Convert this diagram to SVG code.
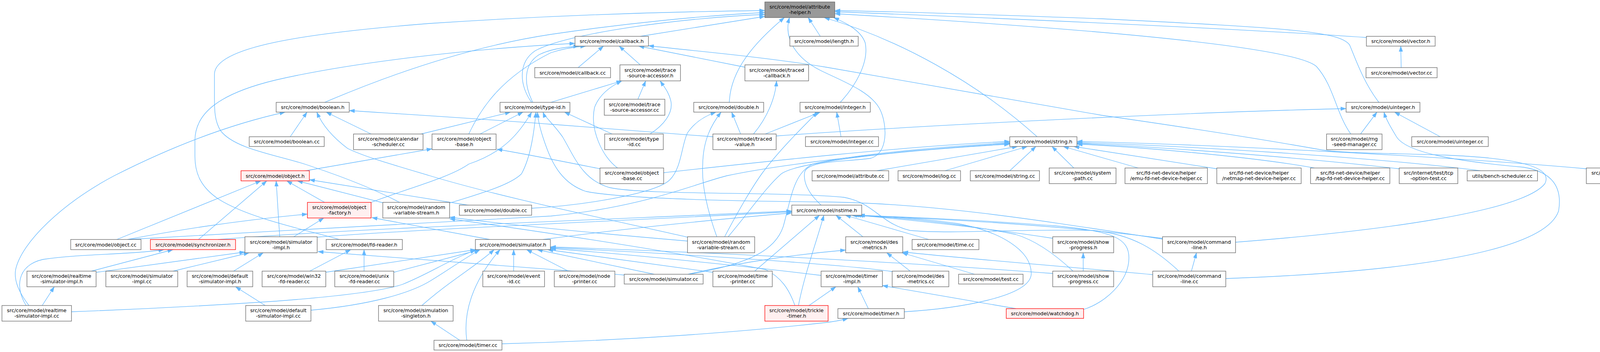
<svg xmlns="http://www.w3.org/2000/svg" width="4227" height="901" viewBox="0 0 4227 901">
<style>
.node rect{fill:#ffffff;stroke:#666666;stroke-width:1.3}
.root rect{fill:#999999;stroke:#666666;stroke-width:1.3}
.red rect{fill:#fff0f0;stroke:#ff0000;stroke-width:1.3}
text{font-family:"DejaVu Sans","Liberation Sans",sans-serif;font-size:12.8px;text-anchor:middle;fill:#000000}
.edges path{fill:none;stroke:#63b8ff;stroke-width:1.3;marker-end:url(#arr)}
</style>
<defs>
<marker id="arr" markerUnits="userSpaceOnUse" markerWidth="14" markerHeight="10" viewBox="0 0 13 9" refX="13" refY="4.5" orient="auto">
<path d="M0,0 L13,4.5 L0,9 z" fill="#63b8ff" stroke="#63b8ff" stroke-width="0.5"/>
</marker>
</defs>
<rect x="0" y="0" width="4227" height="901" fill="#ffffff"/>
<g class="edges">
<path d="M1639,93 L1958,42"/>
<path d="M2100,93 L2069,45"/>
<path d="M3498,96 C3200,75 2600,48 2137,30"/>
<path d="M3530,262 C3490,210 3470,150 3455,115 C3430,80 3300,72 2820,48 C2500,36 2300,30 2137,27"/>
<path d="M831,262 C1000,190 1200,120 1410,88 C1600,60 1800,40 1958,32"/>
<path d="M1361,262 C1330,220 1325,160 1370,130 C1450,85 1750,45 1958,37"/>
<path d="M1867,262 C1870,180 1930,110 2008,45"/>
<path d="M2151,262 C2190,220 2225,160 2215,110 C2205,80 2170,60 2134,45"/>
<path d="M2655,350 C2500,210 2300,100 2110,45"/>
<path d="M3458,343 C3420,290 3415,220 3370,170 C3300,110 2600,62 2137,35"/>
<path d="M1023,518 C950,480 870,450 780,420 C700,395 600,380 565,335 C549,310 549,280 549,250 L549,190 C549,120 780,85 1100,60 C1400,40 1700,30 1958,27"/>
<path d="M2102,525 C2075,500 2055,470 2060,440 C2070,410 2160,415 2230,405 C2275,390 2270,320 2255,285 C2235,235 2150,205 2100,180 C2040,150 2005,100 2021,45"/>
<path d="M1480,173 L1545,118"/>
<path d="M1639,166 L1585,118"/>
<path d="M1907,172 L1635,118"/>
<path d="M1364,262 C1340,215 1340,165 1380,140 C1410,125 1450,120 1482,118"/>
<path d="M1200,343 C1230,280 1280,200 1410,135 C1440,125 1470,120 1500,118"/>
<path d="M869,613 C790,590 640,560 560,510 C515,480 499,445 499,400 L499,360 C499,290 560,240 705,205 C900,160 1200,125 1472,111"/>
<path d="M3163,620 C3550,590 3900,540 3955,470 C3975,430 3900,405 3700,397 C3550,392 3430,392 3380,383 C3250,360 3100,335 2820,295 C2500,240 2200,185 2115,172 C1950,145 1800,133 1660,117"/>
<path d="M3587,173 L3586,118"/>
<path d="M1633,254 L1653,207"/>
<path d="M1410,262 L1592,207"/>
<path d="M1664,343 C1700,320 1722,290 1718,262 C1714,238 1700,222 1690,207"/>
<path d="M1581,430 C1540,400 1510,330 1522,275 C1535,240 1565,220 1592,207"/>
<path d="M1929,343 C1965,300 1985,250 1988,207"/>
<path d="M743,350 L786,287"/>
<path d="M950,343 L835,287"/>
<path d="M1825,350 C1650,336 1500,325 1410,318 C1200,302 1000,290 894,283"/>
<path d="M74,782 C50,750 35,720 40,690 C55,620 160,520 292,450 C430,380 580,320 730,287"/>
<path d="M1760,607 C1600,570 1300,510 1101,450 C1000,420 930,400 890,380 C850,350 825,320 811,287"/>
<path d="M1078,343 L1307,287"/>
<path d="M1229,343 L1339,287"/>
<path d="M1567,343 L1445,287"/>
<path d="M950,518 C1050,480 1150,455 1200,420 C1290,390 1330,340 1361,287"/>
<path d="M1150,520 C1250,490 1310,470 1335,445 C1360,400 1368,330 1372,287"/>
<path d="M2976,612 C2700,570 2400,520 2115,517 C1900,515 1600,510 1500,490 C1440,470 1415,420 1400,380 C1385,340 1377,310 1376,287"/>
<path d="M3018,694 C2960,640 2900,600 2800,590 C2600,585 2450,600 2330,590 C2250,570 2240,520 2160,505 C2000,490 1650,500 1560,480 C1490,460 1470,400 1440,350 C1415,315 1395,300 1390,287"/>
<path d="M1896,343 L1873,287"/>
<path d="M1361,533 C1500,525 1680,495 1715,460 C1745,430 1745,370 1760,340 C1780,310 1810,295 1833,287"/>
<path d="M1835,606 C1815,550 1795,480 1799,420 C1800,360 1820,320 1846,287"/>
<path d="M1959,343 L2100,287"/>
<path d="M2153,350 L2142,287"/>
<path d="M1855,606 C1890,540 1925,480 1950,445 C1990,390 2050,330 2093,287"/>
<path d="M1987,348 C2300,325 3000,288 3446,278"/>
<path d="M3483,343 L3525,287"/>
<path d="M3687,350 L3570,287"/>
<path d="M3138,713 C3500,700 3950,660 3990,540 C4000,480 3975,440 3900,428 C3720,412 3600,390 3575,350 C3560,325 3548,305 3543,287"/>
<path d="M777,438 L1106,381"/>
<path d="M1536,432 C1450,415 1350,395 1272,382"/>
<path d="M2245,437 L2605,375"/>
<path d="M2419,437 L2630,375"/>
<path d="M2585,437 L2652,375"/>
<path d="M2749,430 L2693,375"/>
<path d="M2914,430 L2722,375"/>
<path d="M3115,432 L2749,375"/>
<path d="M3365,430 C3200,400 2900,375 2757,369"/>
<path d="M3582,432 C3300,400 2950,375 2757,367"/>
<path d="M3790,437 C3500,400 3000,372 2757,365"/>
<path d="M4061,432 C3700,400 3100,370 2757,362"/>
<path d="M1699,442 C1900,420 2300,375 2585,362"/>
<path d="M326,613 C700,590 1250,565 1410,553 C1650,530 1780,470 1860,450 C2000,420 2300,385 2585,367"/>
<path d="M1864,606 C1920,540 1960,480 2000,445 C2040,415 2300,385 2585,369"/>
<path d="M1765,702 C1920,675 1985,640 2005,580 C2025,510 2030,445 2080,420 C2200,392 2450,373 2585,365"/>
<path d="M831,518 L734,463"/>
<path d="M984,520 L761,463"/>
<path d="M1204,526 L792,460"/>
<path d="M716,606 L707,463"/>
<path d="M299,613 L668,463"/>
<path d="M508,613 L683,463"/>
<path d="M326,613 C450,590 600,565 787,548"/>
<path d="M752,606 L829,558"/>
<path d="M1254,613 L952,557"/>
<path d="M1760,617 C1500,595 1300,575 1151,556"/>
<path d="M2035,782 C2020,740 2000,710 1960,690 C1700,640 1400,595 1151,560"/>
<path d="M558,613 C900,585 1600,560 2027,540"/>
<path d="M812,607 C1100,585 1600,565 2027,542"/>
<path d="M1390,613 C1600,585 1850,560 2027,545"/>
<path d="M1932,694 L2098,551"/>
<path d="M2044,782 C2060,700 2090,620 2109,551"/>
<path d="M2209,606 L2140,551"/>
<path d="M2378,613 L2164,551"/>
<path d="M2976,610 C2700,575 2400,560 2190,551"/>
<path d="M2695,610 C2500,580 2300,560 2196,551"/>
<path d="M2747,694 C2700,650 2650,615 2600,600 C2450,570 2300,556 2180,551"/>
<path d="M2315,798 C2450,790 2640,760 2640,700 C2640,640 2560,592 2450,572 C2350,557 2250,553 2185,551"/>
<path d="M2774,792 C2830,775 2890,720 2890,660 C2890,610 2850,592 2700,578 C2500,562 2300,555 2200,551"/>
<path d="M247,697 L627,645"/>
<path d="M443,694 L638,647"/>
<path d="M598,694 L674,647"/>
<path d="M1598,704 C1300,680 1000,660 814,644"/>
<path d="M234,694 L443,639"/>
<path d="M67,782 C40,740 40,680 110,664 C200,650 330,652 420,639"/>
<path d="M793,694 L898,639"/>
<path d="M932,694 L932,639"/>
<path d="M183,798 C400,790 600,778 705,771 C850,760 980,745 1030,728 C1100,700 1150,665 1218,640"/>
<path d="M796,794 C950,780 1050,750 1100,720 C1150,690 1190,660 1228,640"/>
<path d="M833,697 L1218,639"/>
<path d="M1008,697 L1229,639"/>
<path d="M1080,782 C1150,720 1220,680 1265,639"/>
<path d="M1195,871 C1185,800 1210,720 1280,639"/>
<path d="M1315,694 L1315,639"/>
<path d="M1455,694 L1348,639"/>
<path d="M1675,702 L1375,639"/>
<path d="M1825,697 L1402,639"/>
<path d="M2102,705 C1900,680 1600,650 1409,636"/>
<path d="M2284,695 C2150,676 1750,650 1409,634"/>
<path d="M2695,700 C2300,670 1800,645 1409,632"/>
<path d="M1761,702 C1900,670 2050,650 2165,640"/>
<path d="M2330,694 L2270,647"/>
<path d="M2495,702 L2309,647"/>
<path d="M2951,703 C2700,680 2450,660 2311,645"/>
<path d="M2773,694 L2773,647"/>
<path d="M3050,694 L3063,647"/>
<path d="M108,782 L139,734"/>
<path d="M679,782 L603,734"/>
<path d="M2223,790 L2196,734"/>
<path d="M2601,790 L2259,731"/>
<path d="M2071,782 L2140,734"/>
<path d="M1285,880 C1600,872 1900,850 2110,826 C2140,823 2160,818 2171,815"/>
<path d="M1177,871 L1103,822"/>
</g>
<g id="n_attribute_helper_h" class="root"><rect x="1958" y="5" width="179" height="40"/><text x="2047.5" y="22">src/core/model/attribute</text><text x="2047.5" y="36">-helper.h</text></g>
<g id="n_callback_h" class="node"><rect x="1472" y="93" width="188" height="25"/><text x="1566" y="110">src/core/model/callback.h</text></g>
<g id="n_length_h" class="node"><rect x="2022" y="93" width="175" height="25"/><text x="2109.5" y="110">src/core/model/length.h</text></g>
<g id="n_vector_h" class="node"><rect x="3498" y="93" width="176" height="25"/><text x="3586" y="110">src/core/model/vector.h</text></g>
<g id="n_callback_cc" class="node"><rect x="1369" y="173" width="194" height="26"/><text x="1466" y="190.5">src/core/model/callback.cc</text></g>
<g id="n_trace_source_accessor_h" class="node"><rect x="1587" y="166" width="155" height="41"/><text x="1664.5" y="183.5">src/core/model/trace</text><text x="1664.5" y="197.5">-source-accessor.h</text></g>
<g id="n_traced_callback_h" class="node"><rect x="1907" y="166" width="163" height="41"/><text x="1988.5" y="183.5">src/core/model/traced</text><text x="1988.5" y="197.5">-callback.h</text></g>
<g id="n_vector_cc" class="node"><rect x="3497" y="173" width="182" height="26"/><text x="3588" y="190.5">src/core/model/vector.cc</text></g>
<g id="n_boolean_h" class="node"><rect x="707" y="262" width="187" height="25"/><text x="800.5" y="279">src/core/model/boolean.h</text></g>
<g id="n_type_id_h" class="node"><rect x="1280" y="262" width="179" height="25"/><text x="1369.5" y="279">src/core/model/type-id.h</text></g>
<g id="n_trace_source_accessor_cc" class="node"><rect x="1547" y="254" width="155" height="41"/><text x="1624.5" y="271.5">src/core/model/trace</text><text x="1624.5" y="285.5">-source-accessor.cc</text></g>
<g id="n_double_h" class="node"><rect x="1776" y="262" width="179" height="25"/><text x="1865.5" y="279">src/core/model/double.h</text></g>
<g id="n_integer_h" class="node"><rect x="2048" y="262" width="180" height="25"/><text x="2138" y="279">src/core/model/integer.h</text></g>
<g id="n_uinteger_h" class="node"><rect x="3446" y="262" width="189" height="25"/><text x="3540.5" y="279">src/core/model/uinteger.h</text></g>
<g id="n_boolean_cc" class="node"><rect x="638" y="350" width="192" height="25"/><text x="734" y="367">src/core/model/boolean.cc</text></g>
<g id="n_calendar_scheduler_cc" class="node"><rect x="905" y="343" width="178" height="40"/><text x="994" y="360">src/core/model/calendar</text><text x="994" y="374">-scheduler.cc</text></g>
<g id="n_object_base_h" class="node"><rect x="1106" y="343" width="164" height="40"/><text x="1188" y="360">src/core/model/object</text><text x="1188" y="374">-base.h</text></g>
<g id="n_type_id_cc" class="node"><rect x="1548" y="343" width="150" height="40"/><text x="1623" y="360">src/core/model/type</text><text x="1623" y="374">-id.cc</text></g>
<g id="n_traced_value_h" class="node"><rect x="1825" y="343" width="162" height="40"/><text x="1906" y="360">src/core/model/traced</text><text x="1906" y="374">-value.h</text></g>
<g id="n_integer_cc" class="node"><rect x="2062" y="350" width="187" height="25"/><text x="2155.5" y="367">src/core/model/integer.cc</text></g>
<g id="n_string_h" class="node"><rect x="2585" y="350" width="172" height="25"/><text x="2671" y="367">src/core/model/string.h</text></g>
<g id="n_rng_seed_manager_cc" class="node"><rect x="3396" y="343" width="142" height="40"/><text x="3467" y="360">src/core/model/rng</text><text x="3467" y="374">-seed-manager.cc</text></g>
<g id="n_uinteger_cc" class="node"><rect x="3614" y="350" width="196" height="25"/><text x="3712" y="367">src/core/model/uinteger.cc</text></g>
<g id="n_object_h" class="red"><rect x="617" y="437" width="175" height="26"/><text x="704.5" y="454.5">src/core/model/object.h</text></g>
<g id="n_object_base_cc" class="node"><rect x="1536" y="430" width="163" height="40"/><text x="1617.5" y="447">src/core/model/object</text><text x="1617.5" y="461">-base.cc</text></g>
<g id="n_attribute_cc" class="node"><rect x="2079" y="437" width="196" height="26"/><text x="2177" y="454.5">src/core/model/attribute.cc</text></g>
<g id="n_log_cc" class="node"><rect x="2299" y="437" width="160" height="26"/><text x="2379" y="454.5">src/core/model/log.cc</text></g>
<g id="n_string_cc" class="node"><rect x="2484" y="437" width="177" height="26"/><text x="2572.5" y="454.5">src/core/model/string.cc</text></g>
<g id="n_system_path_cc" class="node"><rect x="2686" y="430" width="171" height="40"/><text x="2771.5" y="447">src/core/model/system</text><text x="2771.5" y="461">-path.cc</text></g>
<g id="n_emu_fd_net_device_helper_cc" class="node"><rect x="2880" y="430" width="211" height="40"/><text x="2985.5" y="447">src/fd-net-device/helper</text><text x="2985.5" y="461">/emu-fd-net-device-helper.cc</text></g>
<g id="n_netmap_net_device_helper_cc" class="node"><rect x="3115" y="430" width="216" height="40"/><text x="3223" y="447">src/fd-net-device/helper</text><text x="3223" y="461">/netmap-net-device-helper.cc</text></g>
<g id="n_tap_fd_net_device_helper_cc" class="node"><rect x="3355" y="430" width="203" height="40"/><text x="3456.5" y="447">src/fd-net-device/helper</text><text x="3456.5" y="461">/tap-fd-net-device-helper.cc</text></g>
<g id="n_tcp_option_test_cc" class="node"><rect x="3582" y="430" width="150" height="40"/><text x="3657" y="447">src/internet/test/tcp</text><text x="3657" y="461">-option-test.cc</text></g>
<g id="n_bench_scheduler_cc" class="node"><rect x="3756" y="437" width="180" height="26"/><text x="3846" y="454.5">utils/bench-scheduler.cc</text></g>
<g id="n_global_value_cc" class="node"><rect x="4061" y="430" width="164" height="40"/><text x="4143" y="447">src/core/model/global</text><text x="4143" y="461">-value.cc</text></g>
<g id="n_object_factory_h" class="red"><rect x="787" y="518" width="163" height="40"/><text x="868.5" y="535">src/core/model/object</text><text x="868.5" y="549">-factory.h</text></g>
<g id="n_random_variable_stream_h" class="node"><rect x="980" y="518" width="171" height="40"/><text x="1065.5" y="535">src/core/model/random</text><text x="1065.5" y="549">-variable-stream.h</text></g>
<g id="n_double_cc" class="node"><rect x="1176" y="525" width="185" height="26"/><text x="1268.5" y="542.5">src/core/model/double.cc</text></g>
<g id="n_nstime_h" class="node"><rect x="2027" y="525" width="179" height="26"/><text x="2116.5" y="542.5">src/core/model/nstime.h</text></g>
<g id="n_object_cc" class="node"><rect x="181" y="613" width="180" height="26"/><text x="271" y="630.5">src/core/model/object.cc</text></g>
<g id="n_synchronizer_h" class="red"><rect x="385" y="613" width="218" height="26"/><text x="494" y="630.5">src/core/model/synchronizer.h</text></g>
<g id="n_simulator_impl_h" class="node"><rect x="627" y="606" width="185" height="41"/><text x="719.5" y="623.5">src/core/model/simulator</text><text x="719.5" y="637.5">-impl.h</text></g>
<g id="n_fd_reader_h" class="node"><rect x="835" y="613" width="195" height="26"/><text x="932.5" y="630.5">src/core/model/fd-reader.h</text></g>
<g id="n_simulator_h" class="node"><rect x="1217" y="613" width="192" height="26"/><text x="1313" y="630.5">src/core/model/simulator.h</text></g>
<g id="n_random_variable_stream_cc" class="node"><rect x="1760" y="606" width="172" height="41"/><text x="1846" y="623.5">src/core/model/random</text><text x="1846" y="637.5">-variable-stream.cc</text></g>
<g id="n_des_metrics_h" class="node"><rect x="2165" y="606" width="146" height="41"/><text x="2238" y="623.5">src/core/model/des</text><text x="2238" y="637.5">-metrics.h</text></g>
<g id="n_time_cc" class="node"><rect x="2335" y="613" width="171" height="26"/><text x="2420.5" y="630.5">src/core/model/time.cc</text></g>
<g id="n_show_progress_h" class="node"><rect x="2695" y="606" width="156" height="41"/><text x="2773" y="623.5">src/core/model/show</text><text x="2773" y="637.5">-progress.h</text></g>
<g id="n_command_line_h" class="node"><rect x="2976" y="606" width="187" height="41"/><text x="3069.5" y="623.5">src/core/model/command</text><text x="3069.5" y="637.5">-line.h</text></g>
<g id="n_realtime_simulator_impl_h" class="node"><rect x="69" y="694" width="177" height="40"/><text x="157.5" y="711">src/core/model/realtime</text><text x="157.5" y="725">-simulator-impl.h</text></g>
<g id="n_simulator_impl_cc" class="node"><rect x="271" y="694" width="184" height="40"/><text x="363" y="711">src/core/model/simulator</text><text x="363" y="725">-impl.cc</text></g>
<g id="n_default_simulator_impl_h" class="node"><rect x="479" y="694" width="168" height="40"/><text x="563" y="711">src/core/model/default</text><text x="563" y="725">-simulator-impl.h</text></g>
<g id="n_win32_fd_reader_cc" class="node"><rect x="671" y="694" width="163" height="40"/><text x="752.5" y="711">src/core/model/win32</text><text x="752.5" y="725">-fd-reader.cc</text></g>
<g id="n_unix_fd_reader_cc" class="node"><rect x="857" y="694" width="151" height="40"/><text x="932.5" y="711">src/core/model/unix</text><text x="932.5" y="725">-fd-reader.cc</text></g>
<g id="n_event_id_cc" class="node"><rect x="1236" y="694" width="158" height="40"/><text x="1315" y="711">src/core/model/event</text><text x="1315" y="725">-id.cc</text></g>
<g id="n_node_printer_cc" class="node"><rect x="1419" y="694" width="155" height="40"/><text x="1496.5" y="711">src/core/model/node</text><text x="1496.5" y="725">-printer.cc</text></g>
<g id="n_simulator_cc" class="node"><rect x="1598" y="702" width="202" height="25"/><text x="1699" y="719">src/core/model/simulator.cc</text></g>
<g id="n_time_printer_cc" class="node"><rect x="1825" y="694" width="152" height="40"/><text x="1901" y="711">src/core/model/time</text><text x="1901" y="725">-printer.cc</text></g>
<g id="n_timer_impl_h" class="node"><rect x="2102" y="694" width="157" height="40"/><text x="2180.5" y="711">src/core/model/timer</text><text x="2180.5" y="725">-impl.h</text></g>
<g id="n_des_metrics_cc" class="node"><rect x="2284" y="694" width="145" height="40"/><text x="2356.5" y="711">src/core/model/des</text><text x="2356.5" y="725">-metrics.cc</text></g>
<g id="n_test_cc" class="node"><rect x="2454" y="702" width="165" height="25"/><text x="2536.5" y="719">src/core/model/test.cc</text></g>
<g id="n_show_progress_cc" class="node"><rect x="2695" y="694" width="156" height="40"/><text x="2773" y="711">src/core/model/show</text><text x="2773" y="725">-progress.cc</text></g>
<g id="n_command_line_cc" class="node"><rect x="2951" y="694" width="187" height="40"/><text x="3044.5" y="711">src/core/model/command</text><text x="3044.5" y="725">-line.cc</text></g>
<g id="n_realtime_simulator_impl_cc" class="node"><rect x="5" y="782" width="178" height="40"/><text x="94" y="799">src/core/model/realtime</text><text x="94" y="813">-simulator-impl.cc</text></g>
<g id="n_default_simulator_impl_cc" class="node"><rect x="629" y="782" width="167" height="40"/><text x="712.5" y="799">src/core/model/default</text><text x="712.5" y="813">-simulator-impl.cc</text></g>
<g id="n_simulation_singleton_h" class="node"><rect x="969" y="782" width="191" height="40"/><text x="1064.5" y="799">src/core/model/simulation</text><text x="1064.5" y="813">-singleton.h</text></g>
<g id="n_trickle_timer_h" class="red"><rect x="1958" y="782" width="162" height="40"/><text x="2039" y="799">src/core/model/trickle</text><text x="2039" y="813">-timer.h</text></g>
<g id="n_timer_h" class="node"><rect x="2145" y="790" width="170" height="25"/><text x="2230" y="807">src/core/model/timer.h</text></g>
<g id="n_watchdog_h" class="red"><rect x="2576" y="790" width="198" height="25"/><text x="2675" y="807">src/core/model/watchdog.h</text></g>
<g id="n_timer_cc" class="node"><rect x="1111" y="871" width="174" height="25"/><text x="1198" y="888">src/core/model/timer.cc</text></g>
</svg>
